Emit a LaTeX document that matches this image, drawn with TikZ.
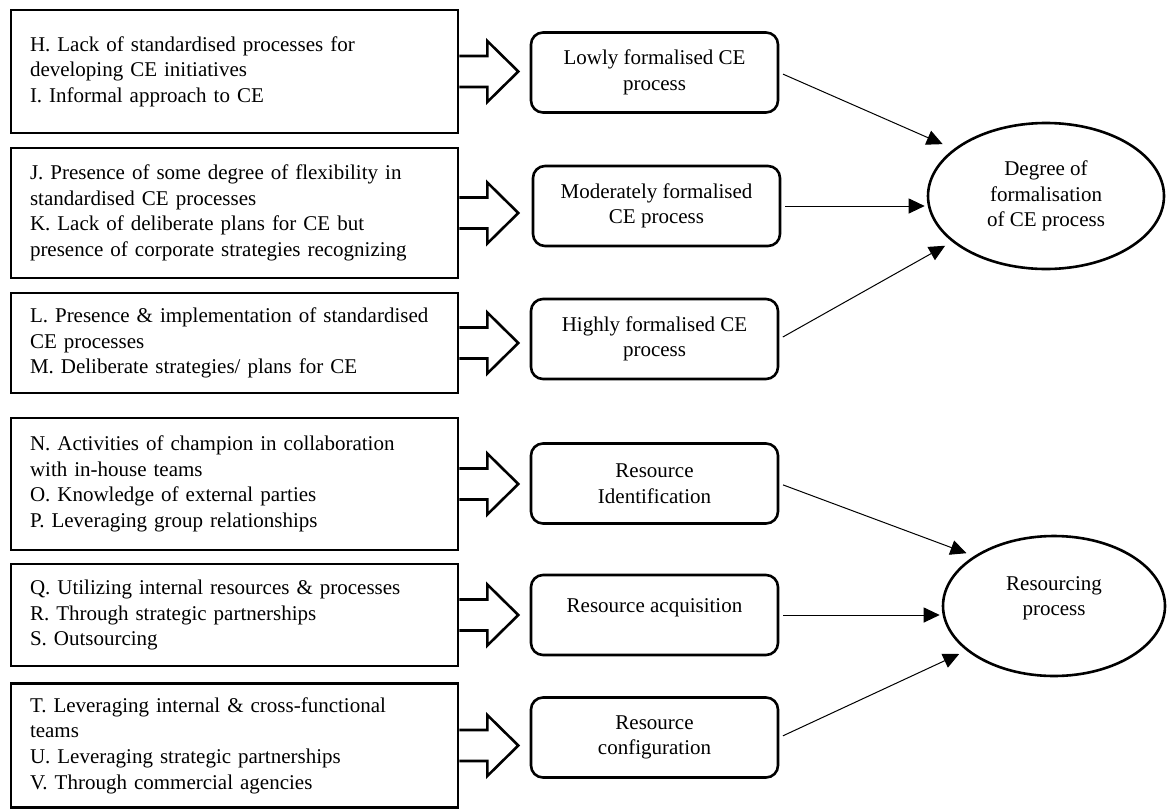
\documentclass[tikz,border=0pt]{standalone}
\usepackage{fontspec}
\setmainfont{Liberation Serif}
\usepackage{tikz}
\usetikzlibrary{shapes,arrows.meta,positioning,calc}

\tikzset{
    % Base node style
    basenode/.style={
        draw=black,
        fill=white,
        line width=1.3pt,
        align=center,
        font=\fontsize{10.5}{12.8}\selectfont
    },
    % Factor box (left column)
    factorbox/.style={
        basenode,
        align=left,
        minimum width=223.5pt,
        text width=204.5pt,
        inner xsep=9.5pt,
        inner ysep=0pt
    },
    % Process box (middle column)
    processbox/.style={
        basenode,
        rounded corners=6pt,
        minimum width=123.5pt,
        minimum height=40pt
    },
    % Outcome ellipse
    outcomenode/.style={
        basenode,
        ellipse,
        inner sep=0pt
    },
    % Block arrow (outline only)
    blockarrow/.style={
        draw=black,
        line width=1.3pt,
        line join=miter
    },
    % Arrow styles (straight lines only)
    myarrow/.style={
        -{Triangle[length=8pt,width=7.5pt]},
        line width=0.5pt,
        draw=black,
        shorten <=2pt
    }
}

\begin{document}
\begin{tikzpicture}[x=0.5pt, y=-0.5pt]
                \path[fill=white, use as bounding box] (0,0) rectangle (1167,809);

                % Factors
                \node[factorbox, minimum height=61.5pt] (lowfac) at (234.5,71.5) {H. Lack of standardised processes for\\developing CE initiatives\\I. Informal approach to CE};
                \node[factorbox, minimum height=65pt] (modfac) at (234.5,213) {J. Presence of some degree of flexibility in\\standardised CE processes\\K. Lack of deliberate plans for CE but\\presence of corporate strategies recognizing};
                \node[factorbox, minimum height=50pt] (highfac) at (234.5,343) {L. Presence \& implementation of standardised\\CE processes\\M. Deliberate strategies/ plans for CE};
                \node[factorbox, minimum height=66pt] (identfac) at (234.5,484) {N. Activities of champion in collaboration\\with in-house teams\\O. Knowledge of external parties\\P. Leveraging group relationships};
                \node[factorbox, minimum height=51pt] (acqfac) at (234.5,615) {Q. Utilizing internal resources \& processes\\R. Through strategic partnerships\\S. Outsourcing};
                \node[factorbox, minimum height=62pt] (configfac) at (234.5,745.5) {T. Leveraging internal \& cross-functional\\teams\\U. Leveraging strategic partnerships\\V. Through commercial agencies};

                % Processes
                \node[processbox] (low) at (654.5,72.5) {Lowly formalised CE\\process};
                \node[processbox] (moderate) at (656.5,206) {Moderately formalised\\CE process};
                \node[processbox] (high) at (654.5,339) {Highly formalised CE\\process};
                \node[processbox] (ident) at (654.5,483.5) {Resource\\Identification};
                \node[processbox] (acq) at (654.5,615) {Resource acquisition\\[-3pt]};
                \node[processbox] (config) at (654.5,737.5) {Resource\\configuration};

                % Outcomes
                \node[outcomenode, minimum width=118pt, minimum height=73pt] (formal) at (1046,196) {Degree of\\formalisation\\of CE process};
                \node[outcomenode, minimum width=111pt, minimum height=70pt] (resourcing) at (1054,606) {Resourcing\\process\\[-3pt]};

                % Block arrows
                \foreach \b in {lowfac,modfac,highfac,identfac,acqfac,configfac}
                    \draw[blockarrow] ($(\b.east)+(0,-15.5)$) -- ++(28,0) -- ++(0,-15) -- ($(\b.east)+(59,0)$) -- ($(\b.east)+(28,30.5)$) -- ++(0,-15) -- ($(\b.east)+(0,15.5)$);

                % Arrows
                \draw[myarrow, shorten >=6pt] (low.east) -- (formal.153);
                \draw[myarrow, shorten >=1pt] (moderate.east) -- (moderate.east -| formal.west);
                \draw[myarrow, shorten >=4pt] (high.east) -- (formal.206);
                \draw[myarrow, shorten >=4pt] (ident.east) -- (resourcing.148);
                \draw[myarrow, shorten >=1pt] (acq.east) -- (acq.east -| resourcing.west);
                \draw[myarrow, shorten >=4pt] (config.east) -- (resourcing.207);
            \end{tikzpicture}
\end{document}
